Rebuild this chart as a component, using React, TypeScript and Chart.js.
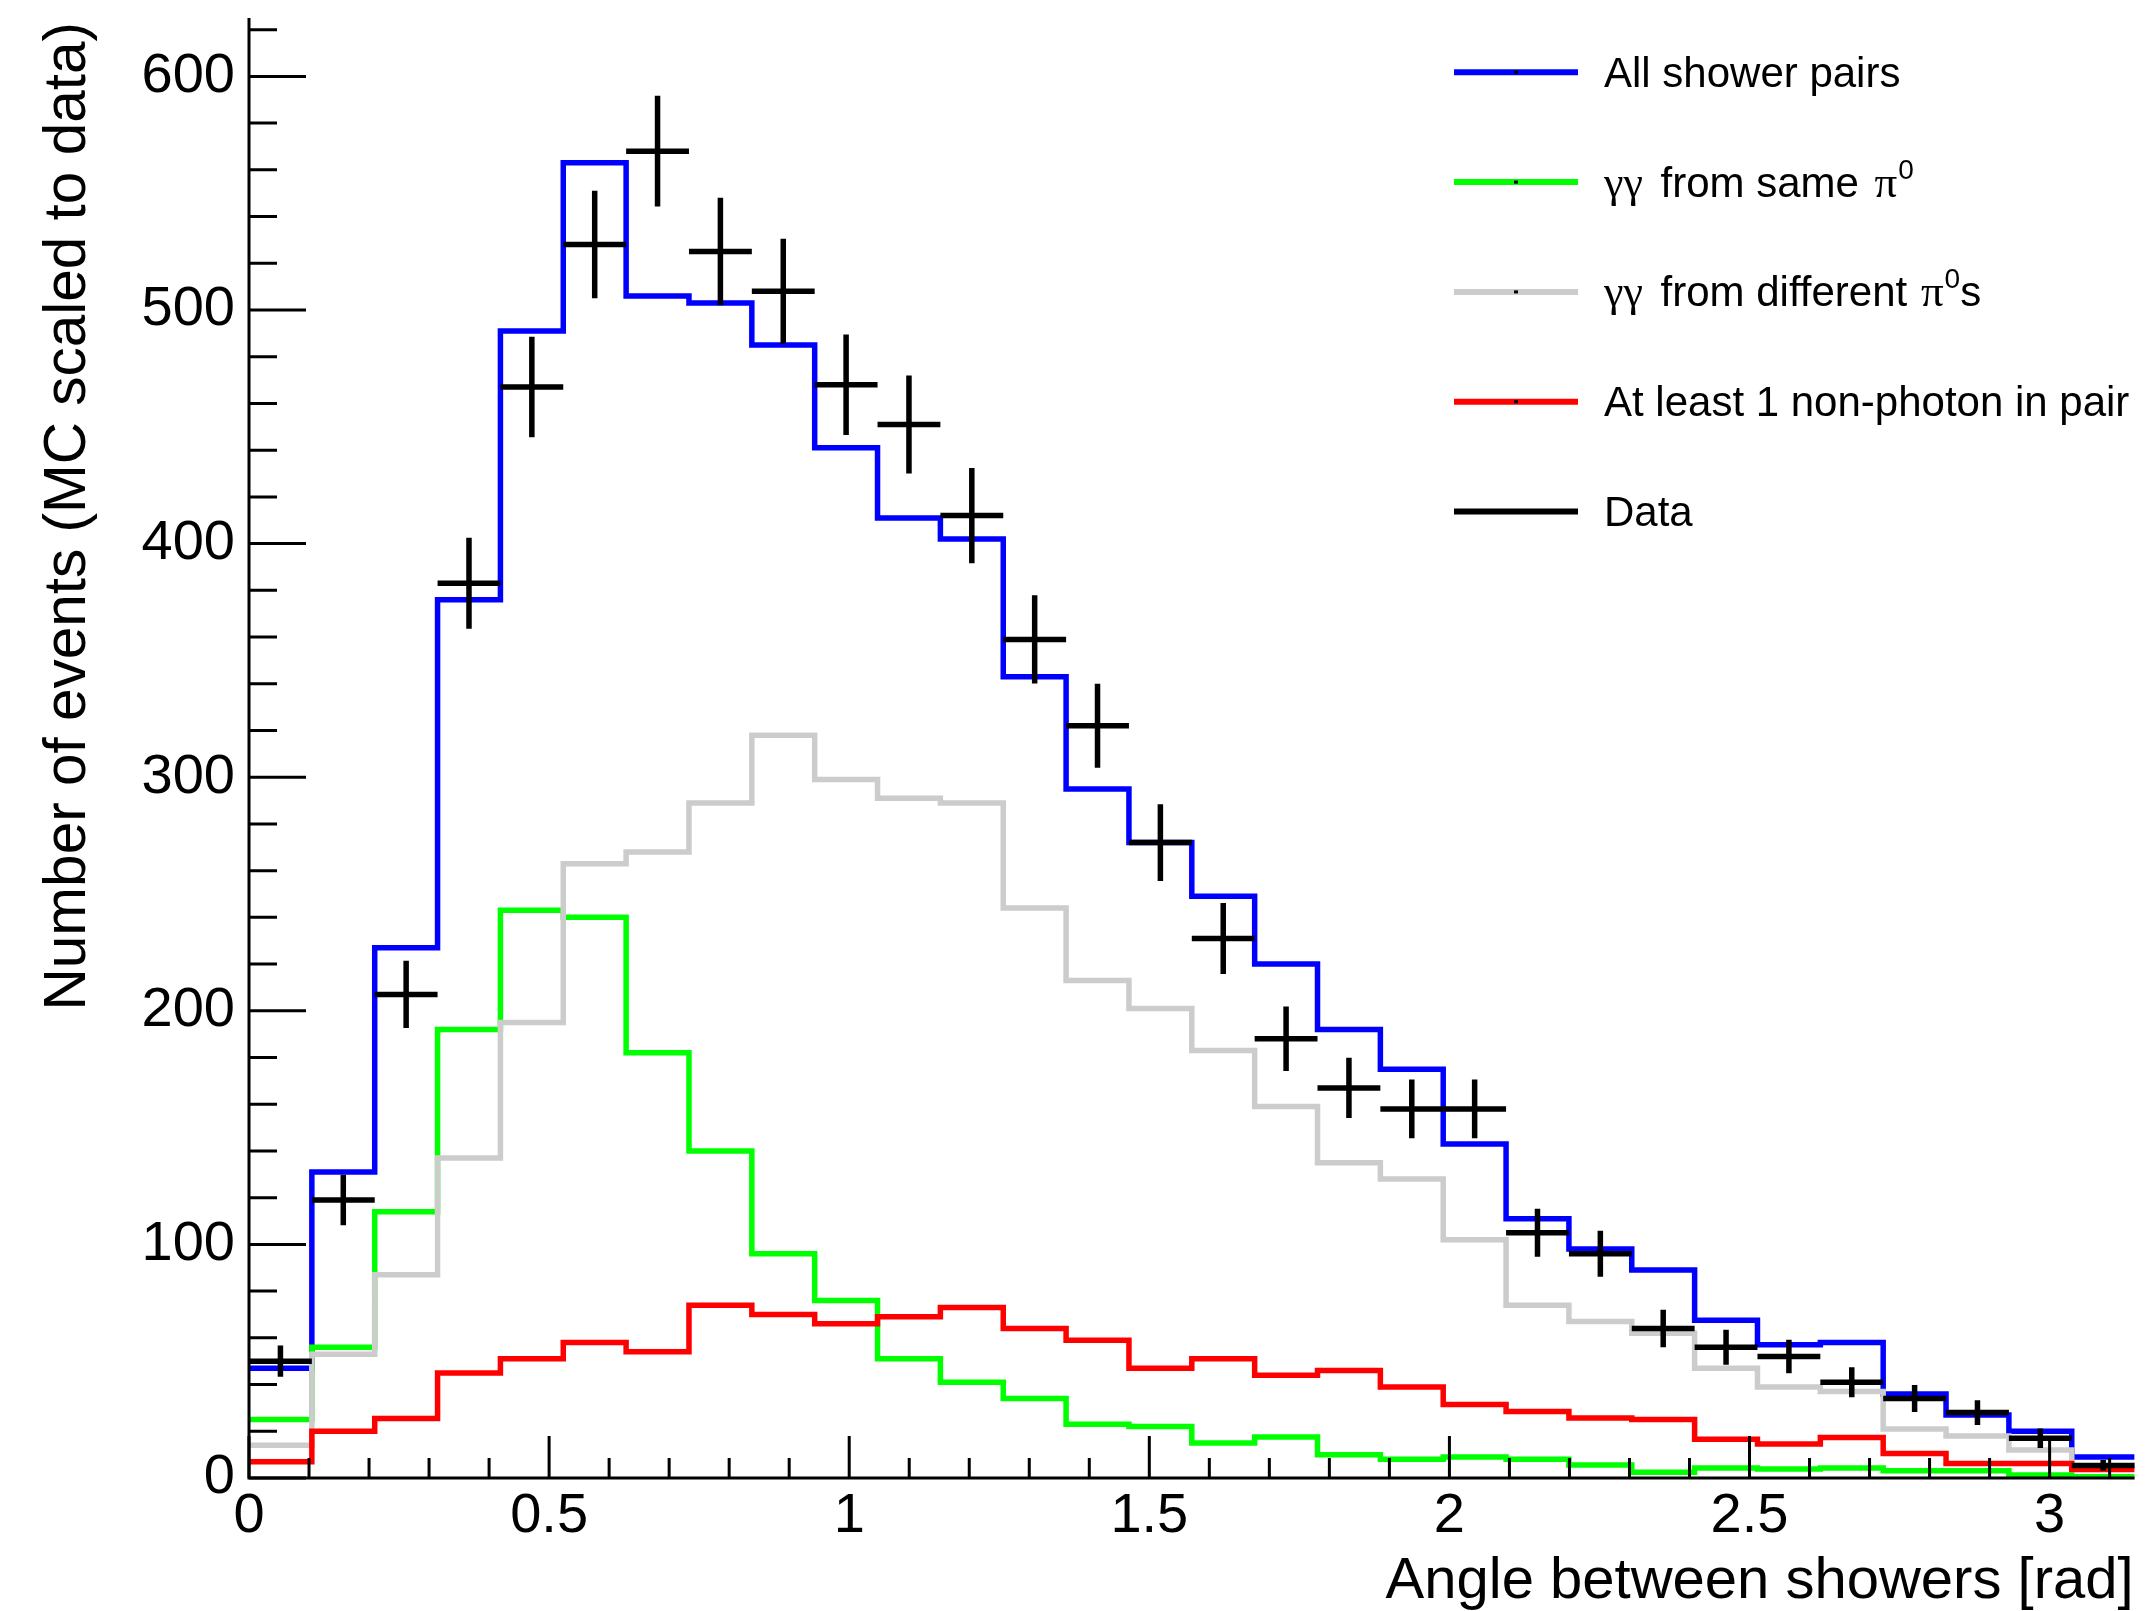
import React, { useEffect, useRef } from "react";
import { Chart, registerables } from "chart.js";

Chart.register(...registerables);

// Histogram binning (30 bins over 0..pi)
const binEdges = [
  0, 0.10472, 0.20944, 0.31416, 0.41888, 0.5236, 0.62832, 0.73304, 0.83776, 0.94248,
  1.0472, 1.15192, 1.25664, 1.36136, 1.46608, 1.5708, 1.67552, 1.78024, 1.88496, 1.98968,
  2.0944, 2.19911, 2.30383, 2.40855, 2.51327, 2.61799, 2.72271, 2.82743, 2.93215, 3.03687,
  3.14159,
];

// MC histograms (scaled to data)
const allPairs = [47, 131, 227, 376, 491, 563, 506, 503, 485, 441, 411, 402, 343, 295, 272, 249, 220, 192, 175, 143, 111, 98, 89, 67.5, 57, 58, 36, 27, 20, 9];
const samePi0 = [25, 56, 114, 192, 243, 240, 182, 140, 96, 76, 51, 41, 34, 23, 22, 15, 17.5, 10, 8, 9, 8, 5.6, 2.5, 4.3, 3.9, 4.3, 3.1, 3.1, 1.3, 0.5];
const diffPi0 = [14, 53, 87, 137, 195, 263, 268, 289, 318, 299, 291, 289, 244, 213, 201, 183, 159, 135, 128, 102, 74, 67, 62, 47, 39, 37, 21, 18, 12, 4];
const nonPhoton = [7, 20, 25.5, 45, 51, 58, 54, 74, 70, 66, 69, 73, 64, 59, 47, 51, 44, 46, 39, 31.5, 28.5, 25.7, 25, 16.6, 14.6, 17.3, 10.5, 6.2, 6.2, 3.6];

// Data points with errors
const dataValues = [50, 119, 207, 383, 467, 528, 568, 525, 508, 468, 451, 412, 359, 322, 272, 231, 188, 167, 158, 158, 105, 96, 64, 56, 52, 41, 34, 28, 17, 5.4];
const dataErrors = [6.7, 10.8, 14.4, 19.5, 21.5, 23, 23.7, 23, 22.5, 21.5, 21, 20.4, 18.9, 18, 16.4, 15.2, 13.8, 12.9, 12.6, 12.6, 10.3, 9.8, 8, 7.5, 7.2, 6.4, 5.8, 5.3, 4.2, 2.3];

// Axes
const xMin = 0;
const xMax = 3.14159;
const yMin = 0;
const yMax = 625;
const xMajorTicks = [0, 0.5, 1, 1.5, 2, 2.5, 3];
const xMinorStep = 0.1;
const yMajorTicks = [0, 100, 200, 300, 400, 500, 600];
const yMinorStep = 20;
const xTitle = "Angle between showers [rad]";
const yTitle = "Number of events (MC scaled to data)";

// Legend
const legendColors = ["#0000ff", "#00ff00", "#cccccc", "#ff0000", "#000000"];

const SANS = '"Liberation Sans", Arial, Helvetica, sans-serif';
const SERIF = '"Liberation Serif", "Times New Roman", serif';

function stepPoints(values: number[]) {
  const pts = values.map((v, i) => ({ x: binEdges[i], y: v }));
  pts.push({ x: binEdges[values.length], y: values[values.length - 1] });
  return pts;
}

type Part = { t: string; font: string; dy?: number; dx?: number };

const legendParts: Part[][] = [
  [{ t: "All shower pairs", font: `42px ${SANS}` }],
  [
    { t: "\u03B3\u03B3", font: `44px ${SERIF}` },
    { t: " from same ", font: `42px ${SANS}`, dx: 6 },
    { t: "\u03C0", font: `45px ${SERIF}`, dx: 4 },
    { t: "0", font: `28px ${SANS}`, dy: -18, dx: 1 },
  ],
  [
    { t: "\u03B3\u03B3", font: `44px ${SERIF}` },
    { t: " from different ", font: `42px ${SANS}`, dx: 6 },
    { t: "\u03C0", font: `45px ${SERIF}`, dx: 2 },
    { t: "0", font: `28px ${SANS}`, dy: -18, dx: 1 },
    { t: "s", font: `42px ${SANS}` },
  ],
  [{ t: "At least 1 non-photon in pair", font: `42px ${SANS}` }],
  [{ t: "Data", font: `42px ${SANS}` }],
];

const rootPlugin = {
  id: "rootStyle",
  afterDatasetsDraw(chart: any) {
    const { ctx } = chart;
    const xs = chart.scales.x;
    const ys = chart.scales.y;
    ctx.save();
    ctx.strokeStyle = "#000";
    ctx.lineWidth = 5.5;
    ctx.lineCap = "butt";
    dataValues.forEach((v, i) => {
      const x0 = xs.getPixelForValue(binEdges[i]);
      const x1 = xs.getPixelForValue(binEdges[i + 1]);
      const xc = xs.getPixelForValue((binEdges[i] + binEdges[i + 1]) / 2);
      const yc = ys.getPixelForValue(v);
      const ylo = ys.getPixelForValue(v - dataErrors[i]);
      const yhi = ys.getPixelForValue(v + dataErrors[i]);
      ctx.beginPath();
      ctx.moveTo(x0, yc);
      ctx.lineTo(x1, yc);
      ctx.moveTo(xc, ylo);
      ctx.lineTo(xc, yhi);
      ctx.stroke();
    });
    ctx.restore();
  },
  afterDraw(chart: any) {
    const { ctx } = chart;
    const xs = chart.scales.x;
    const ys = chart.scales.y;
    const left = xs.getPixelForValue(xMin);
    const right = xs.getPixelForValue(xMax);
    const bottom = ys.getPixelForValue(yMin);
    const top = ys.getPixelForValue(yMax);
    ctx.save();
    ctx.strokeStyle = "#000";
    ctx.lineWidth = 3;
    ctx.lineCap = "butt";
    // axis lines
    ctx.beginPath();
    ctx.moveTo(left, bottom + 1.5);
    ctx.lineTo(left, top);
    ctx.moveTo(left - 1.5, bottom);
    ctx.lineTo(right, bottom);
    ctx.stroke();
    // y ticks
    ctx.beginPath();
    for (let v = yMin; v <= yMax + 1e-6; v += yMinorStep) {
      const py = ys.getPixelForValue(v);
      const major = yMajorTicks.includes(v);
      ctx.moveTo(left, py);
      ctx.lineTo(left + (major ? 57 : 28), py);
    }
    // x ticks
    for (let k = 0; k * xMinorStep <= xMax + 1e-6; k++) {
      const v = Math.round(k * xMinorStep * 10) / 10;
      const px = xs.getPixelForValue(v);
      const major = xMajorTicks.includes(v);
      ctx.moveTo(px, bottom);
      ctx.lineTo(px, bottom - (major ? 42 : 20));
    }
    ctx.stroke();

    // axis titles
    ctx.fillStyle = "#000";
    ctx.font = `58px ${SANS}`;
    ctx.textAlign = "right";
    ctx.textBaseline = "alphabetic";
    ctx.fillText(xTitle, right - 1, 1598);
    ctx.save();
    ctx.translate(85, 22);
    ctx.rotate(-Math.PI / 2);
    ctx.font = `58.5px ${SANS}`;
    ctx.textAlign = "right";
    ctx.fillText(yTitle, 0, 0);
    ctx.restore();

    // legend
    const lx0 = 1454;
    const lx1 = 1578;
    const ly0 = 72.3;
    const ldy = 109.8;
    ctx.textAlign = "left";
    legendParts.forEach((parts, i) => {
      const ly = ly0 + i * ldy;
      ctx.strokeStyle = legendColors[i];
      ctx.lineWidth = 6;
      ctx.beginPath();
      ctx.moveTo(lx0, ly);
      ctx.lineTo(lx1, ly);
      ctx.stroke();
      if (i < 4) {
        ctx.fillStyle = "#000";
        ctx.fillRect(1514, ly - 1.5, 4, 3);
      }
      let tx = 1604;
      const base = ly + 14.5;
      ctx.fillStyle = "#000";
      parts.forEach((p) => {
        ctx.font = p.font;
        tx += p.dx || 0;
        ctx.fillText(p.t, tx, base + (p.dy || 0));
        tx += ctx.measureText(p.t).width;
      });
    });
    ctx.restore();
  },
};

export default function App() {
  const ref = useRef<HTMLCanvasElement | null>(null);

  useEffect(() => {
    if (!ref.current) return;
    Chart.defaults.font.family = SANS;
    const mk = (label: string, values: number[], color: string, order: number) => ({
      type: "line" as const,
      label,
      data: stepPoints(values),
      borderColor: color,
      backgroundColor: color,
      borderWidth: 5.5,
      pointRadius: 0,
      pointHoverRadius: 0,
      fill: false,
      tension: 0,
      stepped: "before" as const,
      borderJoinStyle: "miter" as const,
      borderCapStyle: "butt" as const,
      order,
    });
    const chart = new Chart(ref.current, {
      type: "line",
      data: {
        datasets: [
          mk("All shower pairs", allPairs, legendColors[0], 4),
          mk("γγ from same π0", samePi0, legendColors[1], 3),
          mk("γγ from different π0s", diffPi0, legendColors[2], 2),
          mk("At least 1 non-photon in pair", nonPhoton, legendColors[3], 1),
        ],
      },
      options: {
        responsive: false,
        animation: false,
        devicePixelRatio: 1,
        layout: { padding: { left: 0, top: 18, right: 20.4, bottom: 0 } },
        plugins: {
          legend: { display: false },
          tooltip: { enabled: false },
          title: { display: false },
        },
        scales: {
          x: {
            type: "linear",
            min: xMin,
            max: xMax,
            grid: { display: false, drawTicks: false },
            border: { display: false },
            afterBuildTicks: (s: any) => {
              s.ticks = xMajorTicks.map((v) => ({ value: v }));
            },
            afterFit: (s: any) => {
              s.height = 133;
              s.paddingLeft = 0;
              s.paddingRight = 0;
              s.paddingTop = 0;
              s.paddingBottom = 0;
            },
            ticks: {
              autoSkip: false,
              maxRotation: 0,
              padding: 11,
              color: "#000",
              font: { size: 56, family: SANS, lineHeight: 1 },
              callback: (v: any) => String(Number(Number(v).toFixed(1))),
            },
          },
          y: {
            type: "linear",
            min: yMin,
            max: yMax,
            grid: { display: false, drawTicks: false },
            border: { display: false },
            afterBuildTicks: (s: any) => {
              s.ticks = yMajorTicks.map((v) => ({ value: v }));
            },
            afterFit: (s: any) => {
              s.width = 249;
              s.paddingLeft = 0;
              s.paddingRight = 0;
              s.paddingTop = 0;
              s.paddingBottom = 0;
            },
            ticks: {
              autoSkip: false,
              padding: 14,
              color: "#000",
              font: { size: 56, family: SANS, lineHeight: 1 },
              callback: (v: any) => String(v),
            },
          },
        },
      },
      plugins: [rootPlugin],
    });
    return () => chart.destroy();
  }, []);

  return (
    <div style={{ position: "fixed", left: 0, top: 0, width: 2155, height: 1611, background: "#fff" }}>
      <canvas ref={ref} width={2155} height={1611} style={{ display: "block" }} />
    </div>
  );
}
